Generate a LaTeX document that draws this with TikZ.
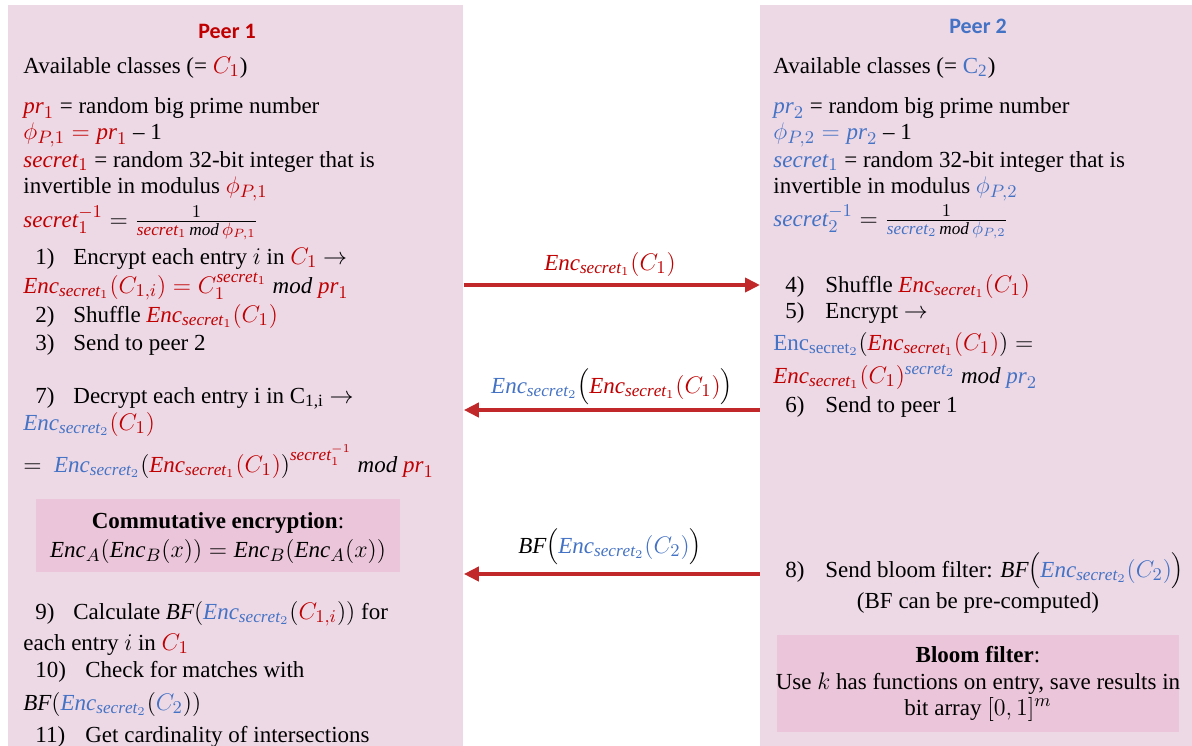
\documentclass[tikz,border=0pt]{standalone}
\usepackage{fontspec}
\setmainfont{Liberation Serif}
\newfontfamily\calfont{Carlito}
\usetikzlibrary{arrows.meta}
\DeclareMathSizes{11.5}{11.5}{8.6}{6.5}
\definecolor{pr}{HTML}{C00000}
\definecolor{pb}{HTML}{4472C4}
\definecolor{panelc}{HTML}{EDD9E6}
\definecolor{innerc}{HTML}{EBC5D9}
\definecolor{arrc}{HTML}{C0282A}
\newcommand\redc[1]{\textcolor{pr}{#1}}
\newcommand\bluec[1]{\textcolor{pb}{#1}}
\newcommand\skey{\mathit{secret}}
\newcommand\Enc{\mathit{Enc}}
\newcommand\mmod{\ \mathit{mod}\ }
\newcommand\itm[1]{\makebox[19pt][l]{#1}}
\newcommand\itmw[1]{\makebox[25pt][l]{#1}}
\newcommand\itmr[1]{\makebox[20pt][l]{#1}}
\newcommand\bodyfont{\fontsize{11.5}{13.8}\selectfont}
\tikzset{
  txt/.style={anchor=base west, inner sep=0pt, font=\bodyfont},
  ctr/.style={anchor=base, inner sep=0pt, font=\bodyfont},
  titlefont/.style={anchor=base, inner sep=0pt, font=\calfont\bfseries\fontsize{11}{13}\selectfont},
  panelbox/.style={fill=panelc, draw=none, inner sep=0pt, anchor=north west},
  innerbox/.style={fill=innerc, draw=none, inner sep=0pt, anchor=north west},
  flow/.style={draw=arrc, line width=2pt, -{Triangle[length=7.5pt,width=7pt]}}
}
\begin{document}
\begin{tikzpicture}[x=0.5pt,y=-0.5pt]
\useasboundingbox (0,0) rectangle (1192,745);
% panels
\node[panelbox, minimum width=227.5pt, minimum height=377.5pt] (p1) at (8,5) {};
\node[panelbox, minimum width=217.5pt, minimum height=377.5pt] (p2) at (760,5) {};
% titles
\node[titlefont, text=pr] (t1) at (227,38) {Peer 1};
\node[titlefont, text=pb] (t2) at (978,33) {Peer 2};
% left panel
\node[txt] (l1) at (23,73) {Available classes (= $\redc{C_1}$)};
\node[txt] (l2) at (23,113) {$\redc{\mathit{pr}_1}$ = random big prime number};
\node[txt] (l3) at (23,139) {$\redc{\phi_{P,1} = \mathit{pr}_1}$ – 1};
\node[txt] (l4) at (23,167) {$\redc{\skey_1}$ = random 32-bit integer that is};
\node[txt] (l5) at (23,193) {invertible in modulus $\redc{\phi_{P,1}}$};
\node[txt] (l6) at (23,227) {$\redc{\skey_1^{-1}} = \frac{1}{\redc{\skey_1}\,\mathit{mod}\,\redc{\phi_{P,1}}}$};
\node[txt] (l7) at (35,264) {\itm{1)}Encrypt each entry $i$ in $\redc{C_1}$ $\rightarrow$};
\node[txt] (l8) at (23,293) {$\redc{\Enc_{\skey_1}(C_{1,i}) = C_1^{\skey_1}}\mmod\redc{\mathit{pr}_1}$};
\node[txt] (l9) at (35,322) {\itm{2)}Shuffle $\redc{\Enc_{\skey_1}(C_1)}$};
\node[txt] (l10) at (35,350) {\itm{3)}Send to peer 2};
\node[txt] (l11) at (35,403) {\itm{7)}Decrypt each entry i in C\textsubscript{1,i} $\rightarrow$};
\node[txt] (l12) at (23,430) {$\bluec{\Enc_{\skey_2}}\redc{(C_1)}$};
\node[txt] (l13) at (23,472) {$=\ \bluec{\Enc_{\skey_2}}\bigl(\redc{\Enc_{\skey_1}(C_1)}\bigr)^{\redc{\skey_1^{-1}}}\mmod\redc{\mathit{pr}_1}$};
\node[innerbox, minimum width=182pt, minimum height=36.5pt] (cbox) at (36,499) {};
\node[ctr] (c1) at (218,528) {\textbf{Commutative encryption}:};
\node[ctr] (c2) at (218,557) {$\Enc_A\big(\Enc_B(x)\big) = \Enc_B\big(\Enc_A(x)\big)$};
\node[txt] (l14) at (35,619) {\itm{9)}Calculate $\mathit{BF}\bigl(\bluec{\Enc_{\skey_2}}(\redc{C_{1,i}})\bigr)$ for};
\node[txt] (l15) at (23,650) {each entry $i$ in $\redc{C_1}$};
\node[txt] (l16) at (35,677) {\itmw{10)}Check for matches with};
\node[txt] (l17) at (23,710) {$\mathit{BF}\bigl(\bluec{\Enc_{\skey_2}}(\bluec{C_2})\bigr)$};
\node[txt] (l18) at (35,742) {\itmw{11)}Get cardinality of intersections};
% right panel
\node[txt] (r1) at (773,73) {Available classes (= \bluec{C\textsubscript{2}})};
\node[txt] (r2) at (773,113) {$\bluec{\mathit{pr}_2}$ = random big prime number};
\node[txt] (r3) at (773,139) {$\bluec{\phi_{P,2} = \mathit{pr}_2}$ – 1};
\node[txt] (r4) at (773,167) {$\bluec{\skey_1}$ = random 32-bit integer that is};
\node[txt] (r5) at (773,193) {invertible in modulus $\bluec{\phi_{P,2}}$};
\node[txt] (r6) at (773,226) {$\bluec{\skey_2^{-1}} = \frac{1}{\bluec{\skey_2}\,\mathit{mod}\,\bluec{\phi_{P,2}}}$};
\node[txt] (r7) at (785,292) {\itmr{4)}Shuffle $\redc{\Enc_{\skey_1}(C_1)}$};
\node[txt] (r8) at (785,318) {\itmr{5)}Encrypt $\rightarrow$};
\node[txt] (r9) at (773,350) {$\bluec{\mathrm{Enc}_{\mathrm{secret}_2}}\bigl(\redc{\Enc_{\skey_1}(C_1)}\bigr) =$};
\node[txt] (r10) at (773,383) {$\redc{\Enc_{\skey_1}(C_1)}^{\bluec{\skey_2}}\mmod\bluec{\mathit{pr}_2}$};
\node[txt] (r11) at (785,412) {\itmr{6)}Send to peer 1};
\node[txt] (r12) at (785,577) {\itmr{8)}Send bloom filter: $\mathit{BF}\Big(\bluec{\Enc_{\skey_2}(C_2)}\Big)$};
\node[ctr] (r13) at (978,608) {(BF can be pre-computed)};
\node[innerbox, minimum width=201pt, minimum height=48.5pt] (bbox) at (777,635) {};
\node[ctr] (b1) at (978,662) {\textbf{Bloom filter}:};
\node[ctr] (b2) at (978,689) {Use $k$ has functions on entry, save results in};
\node[ctr] (b3) at (978,715) {bit array $[0,1]^m$};
% arrows
\coordinate (y1) at (0,285);
\coordinate (y2) at (0,410);
\coordinate (y3) at (0,574);
\draw[flow] (p1.east |- y1) -- (p2.west |- y1);
\draw[flow] (p2.west |- y2) -- (p1.east |- y2);
\draw[flow] (p2.west |- y3) -- (p1.east |- y3);
\node[ctr] (m1) at (610,270) {$\redc{\Enc_{\skey_1}(C_1)}$};
\node[ctr] (m2) at (612,393) {$\bluec{\Enc_{\skey_2}}\Big(\redc{\Enc_{\skey_1}(C_1)}\Big)$};
\node[ctr] (m3) at (610,553) {$\mathit{BF}\Big(\bluec{\Enc_{\skey_2}(C_2)}\Big)$};
\end{tikzpicture}
\end{document}
